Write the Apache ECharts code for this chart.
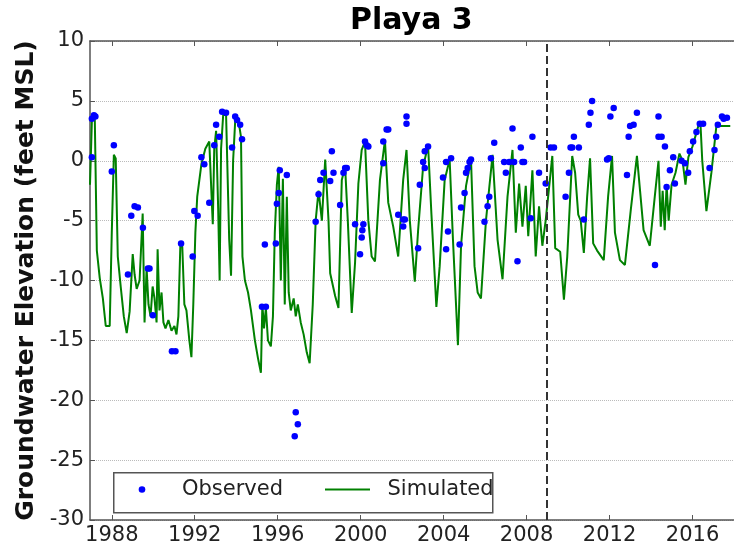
<!DOCTYPE html>
<html><head><meta charset="utf-8">
<script src="https://cdn.jsdelivr.net/npm/echarts@6/dist/echarts.min.js"></script>
<style>html,body{margin:0;padding:0;background:#fff}#c{width:734px;height:551px}</style>
</head><body><div id="c"></div>
<script>
const chartTitle = 'Playa 3';
const yAxisTitle = 'Groundwater Elevation (feet MSL)';
const xTickYears = [1988, 1992, 1996, 2000, 2004, 2008, 2012, 2016];
const calibrationEnd = 2008.95;

const simYears = [1986.95,1987.04,1987.18,1987.28,1987.42,1987.57,1987.71,1987.90,1988.00,1988.10,1988.19,1988.29,1988.43,1988.58,1988.72,1988.86,1989.01,1989.10,1989.20,1989.34,1989.49,1989.58,1989.68,1989.77,1989.87,1989.97,1990.06,1990.16,1990.21,1990.30,1990.40,1990.49,1990.59,1990.73,1990.88,1991.02,1991.12,1991.21,1991.31,1991.40,1991.50,1991.60,1991.74,1991.84,1991.93,1992.03,1992.12,1992.32,1992.51,1992.70,1992.79,1992.87,1992.94,1993.03,1993.13,1993.20,1993.27,1993.37,1993.51,1993.61,1993.66,1993.75,1993.85,1993.95,1994.04,1994.14,1994.23,1994.30,1994.42,1994.57,1994.71,1994.90,1995.05,1995.19,1995.26,1995.34,1995.43,1995.53,1995.67,1995.77,1995.86,1995.96,1996.05,1996.15,1996.25,1996.34,1996.44,1996.53,1996.63,1996.77,1996.87,1996.97,1997.11,1997.25,1997.40,1997.54,1997.69,1997.83,1997.97,1998.13,1998.29,1998.45,1998.53,1998.77,1998.93,1999.09,1999.25,1999.38,1999.57,1999.73,1999.89,2000.05,2000.21,2000.37,2000.53,2000.69,2000.93,2001.17,2001.33,2001.57,2001.81,2002.05,2002.21,2002.37,2002.61,2002.77,2003.01,2003.25,2003.41,2003.65,2003.81,2004.05,2004.29,2004.45,2004.69,2004.84,2005.08,2005.32,2005.49,2005.64,2005.80,2006.04,2006.36,2006.60,2006.84,2007.08,2007.32,2007.48,2007.64,2007.80,2007.96,2008.08,2008.28,2008.44,2008.60,2008.76,2008.92,2009.24,2009.38,2009.62,2009.80,2009.96,2010.20,2010.34,2010.49,2010.61,2010.76,2010.92,2011.06,2011.21,2011.40,2011.72,2011.93,2012.12,2012.26,2012.50,2012.74,2013.03,2013.32,2013.64,2013.94,2014.03,2014.18,2014.36,2014.47,2014.56,2014.66,2014.75,2014.85,2014.99,2015.18,2015.37,2015.52,2015.66,2015.80,2016.00,2016.28,2016.38,2016.47,2016.67,2016.91,2017.15,2017.82];
const simValues = [-2,3.3,3.6,-7.5,-9.8,-11.5,-13.8,-13.8,-6,0.5,0.2,-8,-10.5,-13,-14.4,-12.6,-7.8,-9.5,-10.7,-10,-4.4,-13.5,-9,-12,-13,-10.5,-11.5,-13.5,-7.4,-12.5,-11,-13.5,-14,-13.3,-14.2,-13.8,-14.5,-13,-6.8,-7.2,-12,-12.5,-15,-16.4,-12,-6,-3,-0.3,1.0,1.6,1.5,-5.3,1.0,2.5,-4,-10,1,3.8,3.9,-3,-6.5,-9.6,0,3.3,3.5,3,2,-8,-10,-11,-12.5,-15,-16.5,-17.7,-12,-14,-12.3,-15,-15.5,-13,-6,-2,-0.5,-10,-1.5,-12,-3,-11,-12.5,-11.5,-13,-12,-13.5,-14.5,-16,-16.9,-12,-5,-2.5,-5,0.1,-5,-9.4,-11.3,-12.3,-1.6,-0.5,-5,-12.7,-8.5,-1.9,0.9,1.6,-5,-8,-8.4,-1.6,1.7,-3.5,-5.5,-8,-1.6,0.9,-5,-10.1,-5.8,-0.5,1.3,-4.4,-12.2,-8.8,-1.6,0.1,-6.6,-15.4,-7.1,-2.1,0.1,-8.8,-11,-11.5,-5,0.5,-6.6,-9.9,-3,0.9,-6,-1.9,-5.5,-2.1,-6.3,-0.8,-8,-3.8,-7.1,-5,0.4,-7.3,-7.6,-11.6,-8,0.4,-1,-4.5,-5,-7.7,-3,0.2,-6.9,-7.5,-8.3,-3,0.4,-6,-8.3,-8.7,-4,0.4,-5.8,-7.1,-7.1,-3,0,-5.5,-2.5,-5.8,-2,-5,-2,-1,0.6,0,-2,0.3,1.2,2.9,3.2,0,-4.2,-1,2.9,2.9];

const obsYears = [1987.04,1987.04,1987.14,1987.21,1988.00,1988.10,1988.78,1988.94,1989.10,1989.26,1989.50,1989.74,1989.82,1989.98,1990.90,1991.07,1991.34,1991.90,1991.98,1992.14,1992.32,1992.46,1992.70,1992.94,1993.03,1993.18,1993.32,1993.51,1993.80,1993.95,1994.04,1994.19,1994.28,1995.24,1995.38,1995.43,1995.91,1995.96,1996.05,1996.10,1996.44,1996.82,1996.87,1996.97,1997.83,1997.97,1998.05,1998.21,1998.53,1998.61,1998.69,1999.01,1999.17,1999.25,1999.33,1999.73,1999.97,2000.05,2000.08,2000.13,2000.21,2000.29,2000.37,2001.09,2001.09,2001.25,2001.33,2001.81,2002.05,2002.05,2002.13,2002.21,2002.21,2002.77,2002.85,2003.01,2003.09,2003.09,2003.25,2003.97,2004.12,2004.12,2004.21,2004.36,2004.77,2004.84,2005.01,2005.08,2005.16,2005.25,2005.32,2005.97,2006.12,2006.20,2006.28,2006.44,2006.92,2007.00,2007.16,2007.32,2007.40,2007.56,2007.72,2007.80,2007.88,2008.20,2008.28,2008.60,2008.92,2009.16,2009.32,2009.88,2010.04,2010.12,2010.20,2010.28,2010.52,2010.76,2011.00,2011.08,2011.16,2011.88,2011.96,2012.04,2012.20,2012.84,2012.92,2012.99,2013.16,2013.32,2014.19,2014.36,2014.36,2014.51,2014.67,2014.75,2014.91,2015.07,2015.15,2015.47,2015.63,2015.79,2015.87,2016.03,2016.19,2016.35,2016.51,2016.82,2017.06,2017.14,2017.22,2017.42,2017.50,2017.66];
const obsValues = [0.3,3.5,3.8,3.7,-0.9,1.3,-9.5,-4.6,-3.8,-3.9,-5.6,-9.0,-9.0,-12.9,-15.9,-15.9,-6.9,-8.0,-4.2,-4.6,0.3,-0.3,-3.5,1.3,3.0,2.0,4.1,4.0,1.1,3.7,3.4,3.0,1.8,-12.2,-7.0,-12.2,-6.9,-3.6,-2.7,-0.8,-1.2,-23.0,-21.0,-22.0,-5.1,-2.8,-1.6,-1.0,-1.7,0.8,-1.0,-3.7,-1.0,-0.6,-0.6,-5.3,-7.8,-6.4,-5.8,-5.3,1.6,1.3,1.2,1.6,-0.2,2.6,2.6,-4.5,-4.9,-5.5,-4.9,3.7,3.1,-7.3,-2.0,-0.1,-0.6,0.8,1.2,-1.4,-0.1,-7.4,-5.9,0.2,-7.0,-3.9,-2.7,-1.0,-0.6,-0.1,0.1,-5.1,-3.8,-3.0,0.2,1.5,-0.1,-1.0,-0.1,2.7,-0.1,-8.4,1.1,-0.1,-0.1,-4.8,2.0,-1.0,-1.9,1.1,1.1,-3.0,-1.0,1.1,1.1,2.0,1.1,-4.9,3.0,4.0,5.0,0.1,0.2,3.7,4.4,-1.2,2.0,2.9,3.0,4.0,-8.7,3.7,2.0,2.0,1.2,-2.2,-0.8,0.3,-1.9,0.0,-0.2,-1.0,0.8,1.6,2.4,3.1,3.1,-0.6,0.9,2.0,3.0,3.7,3.5,3.6];

const xMin = 1986.95, xMax = 2018;
const yMin = -30, yMax = 10, yStep = 5;

const font = 'DejaVu Sans';
const obsColor = '#0000ff', simColor = '#008000';
function svgIcon(inner) {
  return 'image://data:image/svg+xml;charset=utf-8,' + encodeURIComponent(
    '<svg xmlns="http://www.w3.org/2000/svg" width="57.5" height="8" viewBox="0 0 57.5 8">' + inner + '</svg>');
}
const obsIcon = svgIcon('<circle cx="22.5" cy="4" r="3.3" fill="' + obsColor + '"/>');
const simIcon = svgIcon('<rect x="0" y="3" width="45" height="2" fill="' + simColor + '"/>');

const chart = echarts.init(document.getElementById('c'), null, {renderer: 'canvas'});
const spine = {show: true, onZero: false, lineStyle: {color: '#555', width: 1.5}};
const tickStyle = {color: '#555', width: 1};
const legendCommon = {
  orient: 'horizontal', top: 479, padding: 0, itemWidth: 57.5, itemHeight: 8, itemGap: 0,
  textStyle: {fontFamily: font, fontSize: 21, color: '#222'}
};
chart.setOption({
  animation: false,
  backgroundColor: '#fff',
  title: {text: chartTitle, left: 350, top: 6, padding: 0,
    textStyle: {fontFamily: font, fontSize: 30, fontWeight: 'bold', color: '#000'}},
  grid: {left: 90, top: 41, right: -3.6, bottom: 31, containLabel: false},
  graphic: [{type: 'rect', left: 113, top: 472, z: 5,
    shape: {width: 379, height: 40},
    style: {fill: '#fff', stroke: '#555', lineWidth: 1.5}}],
  legend: [
    Object.assign({left: 119.5, z: 10, data: [{name: 'Observed', icon: obsIcon}]}, legendCommon),
    Object.assign({left: 325, z: 10, data: [{name: 'Simulated', icon: simIcon}]}, legendCommon)
  ],
  xAxis: [{
    type: 'value', min: xMin, max: xMax, position: 'bottom',
    axisLine: spine,
    axisTick: {show: true, inside: true, length: 5, customValues: xTickYears, lineStyle: tickStyle},
    axisLabel: {show: true, customValues: xTickYears, margin: 5, fontFamily: font, fontSize: 21, color: '#222',
      formatter: v => String(Math.round(v))},
    splitLine: {show: false}
  }, {
    type: 'value', min: xMin, max: xMax, position: 'top',
    axisLine: spine,
    axisTick: {show: true, inside: true, length: 5, customValues: xTickYears, lineStyle: tickStyle},
    axisLabel: {show: false}, splitLine: {show: false}
  }],
  yAxis: {
    type: 'value', min: yMin, max: yMax, interval: yStep,
    name: yAxisTitle, nameLocation: 'middle', nameGap: 41,
    nameTextStyle: {fontFamily: font, fontSize: 25, fontWeight: 'bold', color: '#111'},
    axisLine: spine,
    axisTick: {show: true, inside: true, length: 5, lineStyle: tickStyle},
    axisLabel: {margin: 6, fontFamily: font, fontSize: 21, color: '#222'},
    splitLine: {show: true, lineStyle: {color: '#bbb', type: 'dotted', width: 1}}
  },
  series: [{
    name: 'Simulated', type: 'line', symbol: 'none', showSymbol: false, z: 2,
    lineStyle: {color: simColor, width: 2},
    itemStyle: {color: simColor},
    data: simYears.map((y, i) => [y, simValues[i]]),
    markLine: {silent: true, symbol: 'none', label: {show: false},
      lineStyle: {color: '#333', type: [8, 4], width: 2},
      data: [{xAxis: calibrationEnd}]}
  }, {
    name: 'Observed', type: 'scatter', symbol: 'circle', symbolSize: 6.5, z: 3,
    itemStyle: {color: obsColor, opacity: 1},
    data: obsYears.map((y, i) => [y, obsValues[i]])
  }]
});
</script></body></html>
